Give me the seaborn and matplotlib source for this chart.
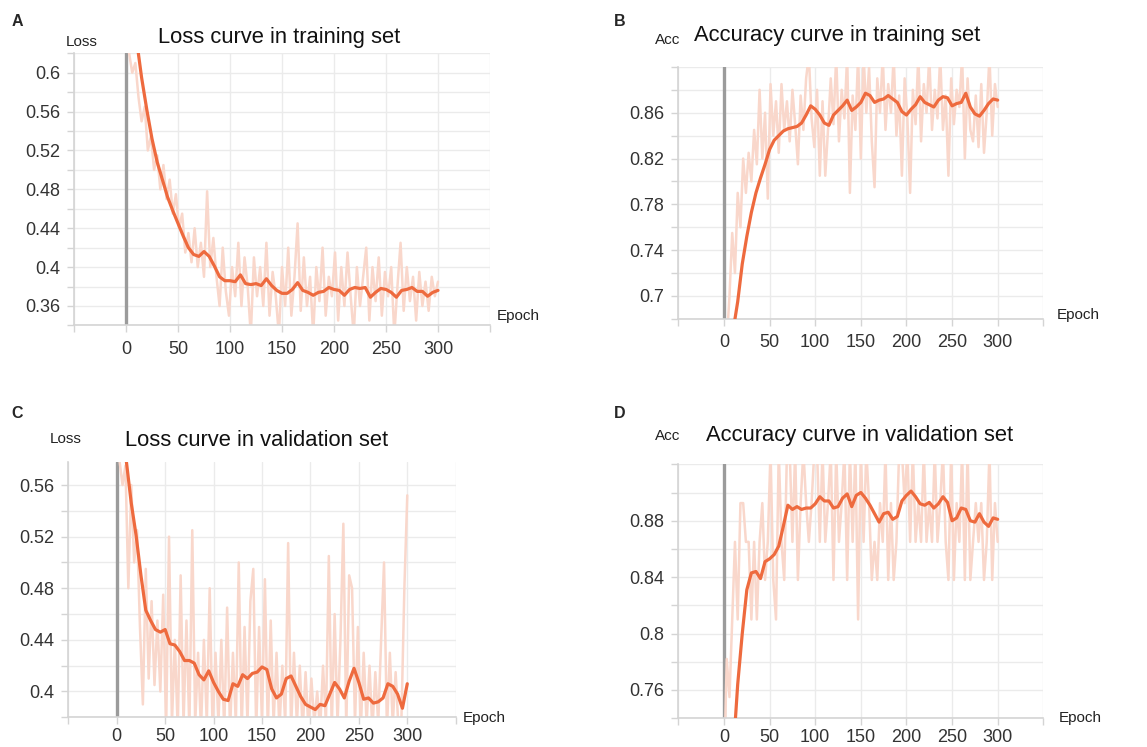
import numpy as np
import pandas as pd
import seaborn as sns
import matplotlib.pyplot as plt

epochs_raw = np.arange(0, 301, 3)
epochs_smooth = np.arange(0, 301, 5)

# raw (light) curves, one value every 3 epochs
train_loss_raw = [
    0.66, 0.62, 0.60, 0.61, 0.575, 0.55, 0.565, 0.52, 0.535, 0.50,
    0.515, 0.48, 0.505, 0.47, 0.49, 0.455, 0.475, 0.44, 0.455, 0.415,
    0.435, 0.405, 0.44, 0.40, 0.425, 0.39, 0.478, 0.40, 0.43, 0.39,
    0.36, 0.42, 0.375, 0.35, 0.40, 0.37, 0.425, 0.36, 0.41, 0.38,
    0.33, 0.41, 0.37, 0.40, 0.36, 0.425, 0.35, 0.395, 0.37, 0.33,
    0.40, 0.36, 0.42, 0.35, 0.39, 0.445, 0.355, 0.41, 0.36, 0.39,
    0.33, 0.40, 0.365, 0.42, 0.35, 0.39, 0.37, 0.415, 0.345, 0.40,
    0.36, 0.415, 0.37, 0.33, 0.40, 0.36, 0.39, 0.42, 0.345, 0.40,
    0.365, 0.41, 0.35, 0.395, 0.37, 0.40, 0.33, 0.38, 0.425, 0.355,
    0.40, 0.365, 0.39, 0.345, 0.395, 0.36, 0.385, 0.355, 0.39, 0.37,
    0.385,
]
train_acc_raw = [
    0.62, 0.66, 0.70, 0.755, 0.72, 0.79, 0.76, 0.82, 0.79, 0.825,
    0.80, 0.845, 0.815, 0.88, 0.82, 0.86, 0.785, 0.885, 0.84, 0.87,
    0.825, 0.885, 0.845, 0.87, 0.835, 0.88, 0.85, 0.815, 0.875, 0.845,
    0.89, 0.91, 0.855, 0.83, 0.88, 0.805, 0.87, 0.805, 0.845, 0.89,
    0.85, 0.91, 0.835, 0.88, 0.855, 0.91, 0.79, 0.875, 0.845, 0.91,
    0.82, 0.91, 0.86, 0.90, 0.835, 0.795, 0.89, 0.86, 0.91, 0.845,
    0.885, 0.86, 0.91, 0.84, 0.875, 0.805, 0.89, 0.855, 0.79, 0.88,
    0.85, 0.91, 0.835, 0.885, 0.86, 0.91, 0.845, 0.88, 0.855, 0.91,
    0.845, 0.875, 0.805, 0.89, 0.85, 0.88, 0.865, 0.91, 0.82, 0.89,
    0.845, 0.835, 0.875, 0.83, 0.885, 0.825, 0.86, 0.91, 0.84, 0.885,
    0.865,
]
val_loss_raw = [
    0.60, 0.578, 0.56, 0.575, 0.48, 0.56, 0.50, 0.525, 0.45, 0.39,
    0.495, 0.41, 0.47, 0.405, 0.455, 0.40, 0.475, 0.37, 0.52, 0.375,
    0.44, 0.37, 0.49, 0.375, 0.455, 0.37, 0.525, 0.375, 0.43, 0.37,
    0.44, 0.375, 0.48, 0.37, 0.43, 0.375, 0.44, 0.37, 0.465, 0.37,
    0.43, 0.375, 0.50, 0.37, 0.45, 0.375, 0.47, 0.495, 0.37, 0.45,
    0.375, 0.487, 0.37, 0.455, 0.375, 0.43, 0.37, 0.42, 0.375, 0.515,
    0.37, 0.43, 0.375, 0.42, 0.37, 0.415, 0.37, 0.41, 0.375, 0.40,
    0.37, 0.42, 0.375, 0.505, 0.37, 0.46, 0.375, 0.44, 0.53, 0.37,
    0.49, 0.48, 0.375, 0.45, 0.37, 0.43, 0.375, 0.42, 0.37, 0.415,
    0.375, 0.44, 0.50, 0.37, 0.43, 0.375, 0.415, 0.37, 0.38, 0.48,
    0.552,
]
val_acc_raw = [
    0.70, 0.782, 0.755, 0.81, 0.865, 0.81, 0.8925, 0.8925, 0.865, 0.865,
    0.81, 0.865, 0.81, 0.865, 0.8925, 0.838, 0.865, 0.93, 0.838, 0.81,
    0.93, 0.865, 0.838, 0.93, 0.93, 0.865, 0.93, 0.838, 0.8925, 0.93,
    0.8925, 0.865, 0.8925, 0.93, 0.93, 0.865, 0.93, 0.865, 0.8925, 0.93,
    0.838, 0.93, 0.865, 0.8925, 0.93, 0.838, 0.93, 0.865, 0.93, 0.81,
    0.93, 0.865, 0.93, 0.8925, 0.838, 0.865, 0.838, 0.8925, 0.865, 0.93,
    0.838, 0.8925, 0.838, 0.865, 0.93, 0.93, 0.8925, 0.93, 0.865, 0.93,
    0.865, 0.8925, 0.865, 0.93, 0.865, 0.8925, 0.865, 0.93, 0.865, 0.8925,
    0.93, 0.865, 0.838, 0.93, 0.838, 0.8925, 0.865, 0.93, 0.838, 0.93,
    0.838, 0.865, 0.8925, 0.865, 0.8925, 0.838, 0.865, 0.93, 0.838, 0.8925,
    0.865,
]

# smoothed (dark) curves, one value every 5 epochs
train_loss_smooth = [
    0.70, 0.67, 0.635, 0.595, 0.562, 0.532, 0.508, 0.49, 0.472, 0.458,
    0.445, 0.432, 0.42, 0.413, 0.411, 0.416, 0.411, 0.401, 0.39, 0.386,
    0.386, 0.385, 0.392, 0.383, 0.382, 0.383, 0.381, 0.388, 0.381, 0.376,
    0.373, 0.373, 0.377, 0.384, 0.376, 0.374, 0.371, 0.374, 0.375, 0.379,
    0.377, 0.376, 0.371, 0.377, 0.379, 0.378, 0.379, 0.369, 0.374, 0.378,
    0.377, 0.374, 0.369, 0.376, 0.377, 0.379, 0.375, 0.375, 0.37, 0.374,
    0.376,
]
train_acc_smooth = [
    0.60, 0.63, 0.67, 0.695, 0.728, 0.752, 0.773, 0.79, 0.803, 0.815,
    0.828, 0.836, 0.84, 0.844, 0.846, 0.847, 0.848, 0.851, 0.858, 0.866,
    0.863, 0.858, 0.851, 0.849, 0.858, 0.862, 0.866, 0.871, 0.862, 0.865,
    0.869, 0.877, 0.875, 0.869, 0.871, 0.872, 0.875, 0.872, 0.869, 0.861,
    0.858, 0.863, 0.867, 0.874, 0.869, 0.867, 0.865, 0.871, 0.874, 0.873,
    0.866, 0.868, 0.869, 0.877, 0.865, 0.859, 0.857, 0.862, 0.868, 0.872,
    0.871,
]
val_loss_smooth = [
    0.64, 0.61, 0.578, 0.546, 0.521, 0.49, 0.463, 0.455, 0.448, 0.446,
    0.448, 0.437, 0.436, 0.431, 0.424, 0.424, 0.422, 0.413, 0.409, 0.416,
    0.407, 0.40, 0.394, 0.393, 0.406, 0.404, 0.413, 0.41, 0.414, 0.415,
    0.419, 0.417, 0.402, 0.395, 0.398, 0.41, 0.412, 0.404, 0.396, 0.39,
    0.388, 0.386, 0.39, 0.389, 0.398, 0.407, 0.402, 0.395, 0.408, 0.418,
    0.407, 0.394, 0.395, 0.391, 0.392, 0.395, 0.406, 0.404, 0.398, 0.387,
    0.406,
]
val_acc_smooth = [
    0.64, 0.67, 0.715, 0.764, 0.80, 0.831, 0.843, 0.844, 0.839, 0.851,
    0.853, 0.856, 0.862, 0.876, 0.891, 0.888, 0.89, 0.888, 0.889, 0.889,
    0.892, 0.897, 0.894, 0.894, 0.889, 0.89, 0.896, 0.899, 0.89, 0.898,
    0.90, 0.896, 0.891, 0.885, 0.879, 0.885, 0.886, 0.881, 0.883, 0.894,
    0.898, 0.901, 0.897, 0.892, 0.891, 0.893, 0.889, 0.892, 0.897, 0.893,
    0.88, 0.882, 0.889, 0.888, 0.88, 0.879, 0.885, 0.879, 0.876, 0.882,
    0.881,
]

# tick labels
x_ticks = [-50, 0, 50, 100, 150, 200, 250, 300, 350]
x_tick_labels = ["", "0", "50", "100", "150", "200", "250", "300", ""]
train_loss_labels = [0.36, 0.40, 0.44, 0.48, 0.52, 0.56, 0.60]
train_acc_labels = [0.70, 0.74, 0.78, 0.82, 0.86]
val_loss_labels = [0.40, 0.44, 0.48, 0.52, 0.56]
val_acc_labels = [0.76, 0.80, 0.84, 0.88]

RAW = "#f9d7cb"
SMOOTH = "#ee6a3e"
W, H = 1147, 747

sns.set_style("white")
plt.rcParams["font.family"] = ["Liberation Sans", "DejaVu Sans"]

fig = plt.figure(figsize=(W / 100, H / 100), dpi=100)

# rect (px: left, top, right, bottom), ylim, data, texts
panels = [
    dict(px=(74, 53.3, 490, 325.4), ylim=(0.34, 0.62), raw=train_loss_raw,
         smooth=train_loss_smooth, labels=train_loss_labels, letter="A",
         letter_xy=(17, 21), ylab="Loss", ylab_xy=(82, 42), xpad=6,
         title="Loss curve in training set", title_xy=(279, 37), epoch_xy=(497, 316)),
    dict(px=(678.4, 66.9, 1043.3, 318.9), ylim=(0.68, 0.90), raw=train_acc_raw,
         smooth=train_acc_smooth, labels=train_acc_labels, letter="B",
         letter_xy=(620, 21), ylab="Acc", ylab_xy=(668, 40), xpad=6,
         title="Accuracy curve in training set", title_xy=(837, 35), epoch_xy=(1057, 315)),
    dict(px=(68.3, 461.8, 455.7, 717.3), ylim=(0.38, 0.578), raw=val_loss_raw,
         smooth=val_loss_smooth, labels=val_loss_labels, letter="C",
         letter_xy=(17, 414), ylab="Loss", ylab_xy=(66, 439), xpad=2.5,
         title="Loss curve in validation set", title_xy=(257, 441), epoch_xy=(463, 718)),
    dict(px=(678.4, 464.3, 1043.3, 718.2), ylim=(0.74, 0.92), raw=val_acc_raw,
         smooth=val_acc_smooth, labels=val_acc_labels, letter="D",
         letter_xy=(620, 414), ylab="Acc", ylab_xy=(668, 436), xpad=2.5,
         title="Accuracy curve in validation set", title_xy=(860, 435), epoch_xy=(1059, 718)),
]

for p in panels:
    l, t, r, b = p["px"]
    ax = fig.add_axes([l / W, 1 - b / H, (r - l) / W, (b - t) / H])

    raw_df = pd.DataFrame({"epoch": epochs_raw, "value": p["raw"]})
    smooth_df = pd.DataFrame({"epoch": epochs_smooth, "value": p["smooth"]})
    sns.lineplot(data=raw_df, x="epoch", y="value", ax=ax, color=RAW, lw=1.8, zorder=2)
    sns.lineplot(data=smooth_df, x="epoch", y="value", ax=ax, color=SMOOTH, lw=2.3, zorder=3)
    ax.axvline(0, color="#9b9b9b", lw=2.4, zorder=1)

    lo, hi = p["ylim"]
    ax.set_xlim(-50, 350)
    ax.set_ylim(lo, hi)

    ax.set_xticks(x_ticks)
    ax.set_xticklabels(x_tick_labels)
    yt = np.round(np.arange(lo, hi + 1e-6, 0.02), 2)
    ax.set_yticks(yt)
    major = [round(v, 2) for v in p["labels"]]
    ax.set_yticklabels([f"{v:g}" if round(v, 2) in major else "" for v in yt])

    ax.grid(True, color="#ebebeb", lw=1.0, zorder=0)
    ax.set_axisbelow(True)
    for s in ["top", "right"]:
        ax.spines[s].set_visible(False)
    for s in ["left", "bottom"]:
        ax.spines[s].set_color("#d4d4d4")
        ax.spines[s].set_linewidth(1.2)
    ax.tick_params(axis="both", bottom=True, left=True, length=5, width=1,
                   color="#d4d4d4", labelsize=13, labelcolor="#333333")
    ax.tick_params(axis="x", pad=p["xpad"])
    ax.tick_params(axis="y", pad=5)
    ax.set_xlabel("")
    ax.set_ylabel("")

    fig.text(p["letter_xy"][0] / W, 1 - p["letter_xy"][1] / H, p["letter"],
             fontsize=11.5, fontweight="bold", ha="center", va="center")
    fig.text(p["ylab_xy"][0] / W, 1 - p["ylab_xy"][1] / H, p["ylab"],
             fontsize=11, ha="center", va="center", color="#222222")
    fig.text(p["title_xy"][0] / W, 1 - p["title_xy"][1] / H, p["title"],
             fontsize=15.8, ha="center", va="center", color="#111111")
    fig.text(p["epoch_xy"][0] / W, 1 - p["epoch_xy"][1] / H, "Epoch",
             fontsize=11, ha="left", va="center", color="#222222")

fig.savefig("out.png", dpi=100)
